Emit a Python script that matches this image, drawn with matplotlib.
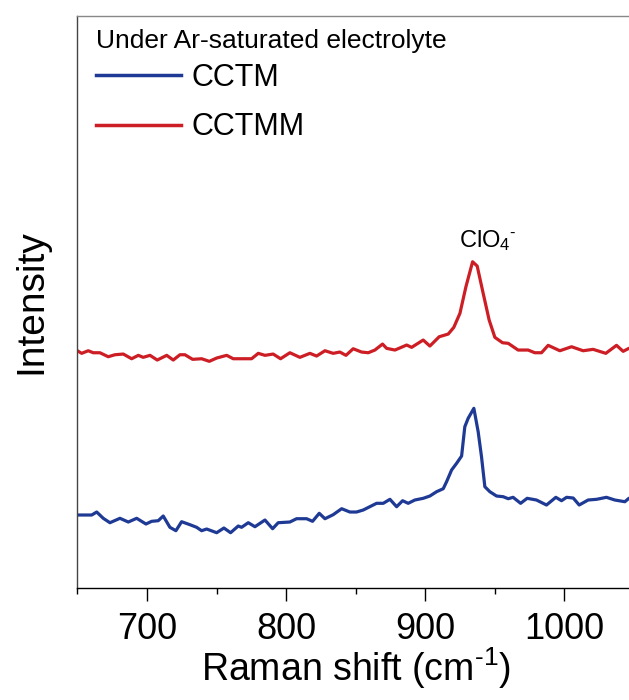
import matplotlib
matplotlib.use("Agg")
import matplotlib.pyplot as plt
from matplotlib.ticker import MultipleLocator

plt.rcParams['font.family'] = ['Liberation Sans', 'DejaVu Sans']
plt.rcParams['mathtext.fontset'] = 'custom'
plt.rcParams['mathtext.rm'] = 'Liberation Sans'
plt.rcParams['mathtext.it'] = 'Liberation Sans:italic'
plt.rcParams['mathtext.bf'] = 'Liberation Sans:bold'

# Raman spectra (offset intensity, a.u.)
cctmm_shift = [650.0, 653.1, 657.8, 661.4, 666.2, 672.2, 677.0, 683.0, 689.0, 693.8,
               697.3, 702.2, 707.4, 714.2, 718.9, 723.7, 727.3, 732.8, 739.3, 744.8,
               750.1, 757.3, 762.0, 775.2, 780.0, 784.8, 790.7, 796.0, 802.7, 809.9,
               817.1, 821.9, 827.9, 833.8, 838.6, 843.0, 848.2, 854.2, 859.0, 863.8,
               869.3, 872.2, 878.2, 886.6, 890.2, 898.5, 903.3, 910.0, 916.5, 920.5,
               924.9, 929.2, 934.0, 937.3, 941.6, 945.9, 950.0, 955.5, 959.6, 966.7,
               973.9, 978.7, 983.5, 988.3, 996.7, 1005.1, 1013.4, 1020.6, 1029.7, 1037.4,
               1042.2, 1046.3, 1050.0]
cctmm_int = [237.3, 234.7, 237.3, 235.3, 235.3, 231.3, 233.3, 234.0, 229.3, 232.7,
             230.7, 232.7, 228.0, 232.7, 228.0, 233.3, 233.3, 228.7, 229.3, 226.7,
             230.0, 232.7, 229.3, 229.3, 234.7, 232.7, 234.0, 229.3, 235.3, 230.7,
             234.7, 232.0, 237.3, 234.7, 236.0, 232.7, 239.3, 236.0, 235.3, 238.0,
             244.0, 239.7, 238.0, 243.0, 240.7, 248.0, 242.0, 251.3, 254.0, 260.7,
             274.7, 301.3, 326.3, 322.0, 294.7, 268.0, 250.7, 245.3, 244.7, 238.0,
             238.0, 235.3, 235.3, 242.7, 237.3, 241.3, 237.3, 238.7, 234.7, 242.7,
             236.7, 239.7, 238.0]

cctm_shift = [650.0, 660.3, 663.9, 668.6, 673.4, 680.6, 686.6, 692.6, 699.3, 703.4,
              708.1, 711.7, 716.5, 720.8, 724.9, 730.9, 735.7, 739.3, 742.9, 750.1,
              755.3, 760.1, 765.6, 768.0, 772.8, 777.6, 784.8, 790.3, 794.3, 802.7,
              807.5, 814.7, 819.0, 823.8, 827.9, 833.8, 839.9, 845.8, 850.6, 855.4,
              865.0, 869.8, 874.6, 879.4, 883.7, 887.7, 892.5, 898.5, 903.3, 908.1,
              912.9, 915.3, 918.9, 922.5, 926.1, 928.4, 930.8, 934.9, 938.0, 940.4,
              942.8, 946.4, 951.2, 956.0, 959.6, 963.1, 968.5, 973.2, 979.9, 987.1,
              993.8, 997.9, 1001.5, 1006.3, 1010.6, 1017.0, 1023.1, 1030.2, 1036.2, 1043.4,
              1046.3, 1050.0]
cctm_int = [73.0, 73.0, 76.0, 69.7, 65.3, 69.7, 66.0, 69.7, 64.0, 66.7,
            67.3, 72.0, 60.7, 57.3, 66.3, 63.3, 60.7, 57.3, 59.0, 55.3,
            60.0, 55.3, 62.0, 60.7, 65.3, 61.3, 68.0, 59.3, 65.3, 66.0,
            69.3, 69.3, 66.7, 74.7, 69.3, 73.3, 79.3, 76.0, 76.0, 78.0,
            84.7, 84.7, 88.7, 81.3, 87.3, 84.7, 88.0, 89.7, 92.0, 96.3,
            99.3, 106.3, 118.0, 124.7, 132.0, 161.3, 169.7, 179.7, 156.3, 131.3,
            101.3, 96.3, 92.0, 91.3, 89.3, 90.7, 84.7, 89.7, 88.0, 83.0,
            90.7, 87.3, 90.7, 90.0, 83.0, 88.0, 88.7, 90.7, 88.0, 86.3,
            89.7, 89.0]

x_ticks = [700, 800, 900, 1000]
series_labels = ['CCTM', 'CCTMM']
blue = '#1f3a94'
red = '#cc1e24'

fig = plt.figure(figsize=(6.29, 7.0), dpi=100)
ax = fig.add_axes([0.123, 0.16, 0.885, 0.817])

ax.plot(cctm_shift, cctm_int, color=blue, lw=2.3, label=series_labels[0])
ax.plot(cctmm_shift, cctmm_int, color=red, lw=2.3, label=series_labels[1])

ax.set_xlim(650, 1050)
ax.set_ylim(0, 572)
ax.set_xticks(x_ticks)
ax.xaxis.set_minor_locator(MultipleLocator(50))
ax.set_yticks([])
ax.tick_params(axis='x', which='major', direction='out', length=9.2, width=1,
               labelsize=26, pad=7.8)
ax.tick_params(axis='x', which='minor', direction='out', length=4.5, width=1)

ax.spines['top'].set_color('#888888')
ax.spines['left'].set_color('#444444')
ax.spines['bottom'].set_color('black')
for s in ax.spines.values():
    s.set_linewidth(1.0)

ax.set_xlabel(r'Raman shift (cm$^{\text{-}1}$)', fontsize=27, labelpad=-1)
ax.set_ylabel('Intensity', fontsize=28, labelpad=20)

ax.text(945, 348, r'ClO$_4$$^{\text{-}}$', fontsize=17, ha='center', va='center')

ax.text(0.0334, 0.9435, 'Under Ar-saturated electrolyte', fontsize=19,
        ha='left', va='baseline', transform=ax.transAxes)

leg = ax.legend(loc='upper left', bbox_to_anchor=(0.033, 0.918), frameon=False,
                fontsize=22, handlelength=2.8, handletextpad=0.33,
                labelspacing=0.63, borderpad=0, borderaxespad=0)
for line in leg.get_lines():
    line.set_linewidth(2.5)

fig.savefig('out.png', dpi=100)
